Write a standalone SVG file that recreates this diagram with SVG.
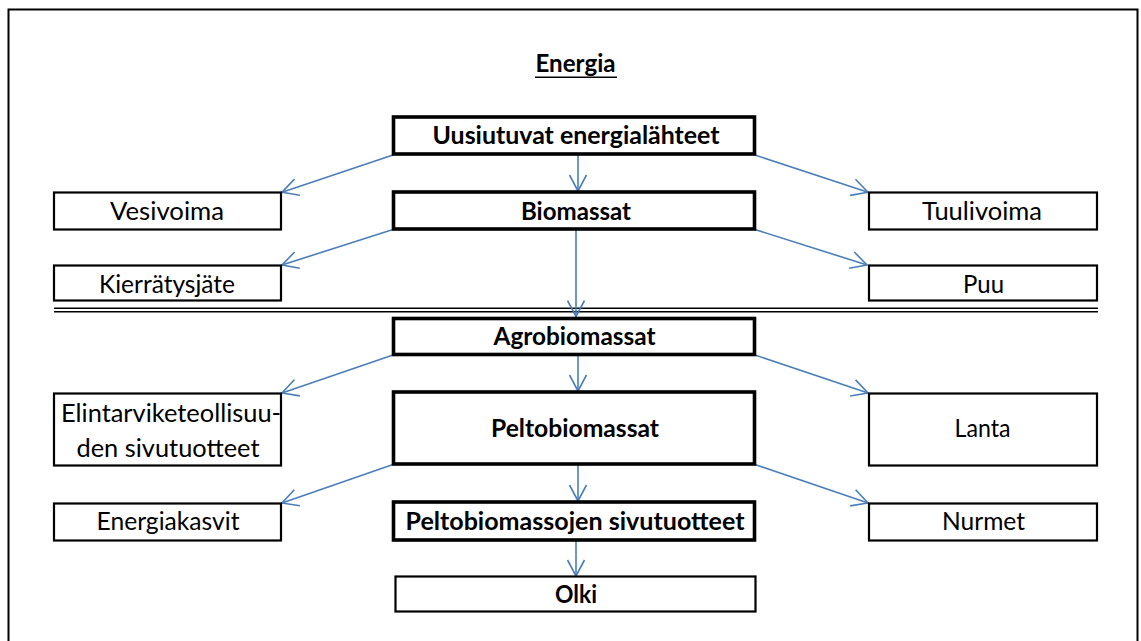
<svg xmlns="http://www.w3.org/2000/svg" width="1141" height="641" viewBox="0 0 1141 641">
<style>
text{font-family:Lato,"Open Sans","Liberation Sans",sans-serif;font-size:24.5px;fill:#000;text-anchor:middle}
.b{font-weight:bold}
.thin{fill:#fff;stroke:#000;stroke-width:2.2}
.thick{fill:#fff;stroke:#000;stroke-width:3.6}
.c{stroke:#4A7EBB;stroke-width:1.6;fill:none;marker-end:url(#ah)}
.sep{stroke:#000;stroke-width:1.6}
</style>
<defs>
<marker id="ah" markerUnits="userSpaceOnUse" viewBox="-17 -10 19 20" refX="0" refY="0" markerWidth="19" markerHeight="20" orient="auto">
<path d="M-16,-8.5 L0,0 L-16,8.5" fill="none" stroke="#4A7EBB" stroke-width="1.6"/>
</marker>
</defs>
<rect x="0" y="0" width="1141" height="641" fill="#fff"/>
<rect id="frame" x="8.5" y="9.5" width="1129" height="660" fill="none" stroke="#000" stroke-width="2"/>
<g id="title">
<text class="b" x="575.5" y="71.5" textLength="80" lengthAdjust="spacingAndGlyphs">Energia</text>
<line x1="535" y1="77.3" x2="617" y2="77.3" stroke="#000" stroke-width="1.5"/>
</g>
<g id="separator">
<line class="sep" x1="54" y1="308.3" x2="1098" y2="308.3"/>
<line class="sep" x1="54" y1="311.8" x2="1098" y2="311.8"/>
</g>
<g id="connectors">
<line class="c" x1="393" y1="155" x2="282" y2="192.3"/>
<line class="c" x1="578" y1="155" x2="578" y2="191"/>
<line class="c" x1="755" y1="155" x2="868" y2="192.3"/>
<line class="c" x1="393" y1="229.5" x2="282" y2="265"/>
<line class="c" x1="755" y1="229.5" x2="867" y2="265"/>
<line class="c" x1="576" y1="229.5" x2="576" y2="316.5"/>
<line class="c" x1="393" y1="355" x2="282" y2="393"/>
<line class="c" x1="578" y1="355" x2="578" y2="391"/>
<line class="c" x1="755" y1="355" x2="868" y2="393"/>
<line class="c" x1="393" y1="464.5" x2="282" y2="503"/>
<line class="c" x1="578" y1="464.5" x2="578" y2="501"/>
<line class="c" x1="755" y1="464.5" x2="868" y2="503"/>
<line class="c" x1="576" y1="540" x2="576" y2="576"/>
</g>
<g id="uusiutuvat">
<rect class="thick" x="393.5" y="117" width="361" height="37"/>
<text class="b" x="576" y="144" textLength="287" lengthAdjust="spacingAndGlyphs">Uusiutuvat energialähteet</text>
</g>
<g id="vesivoima">
<rect class="thin" x="54" y="192.5" width="227" height="37"/>
<text x="167" y="220" textLength="114" lengthAdjust="spacingAndGlyphs">Vesivoima</text>
</g>
<g id="biomassat">
<rect class="thick" x="393.5" y="192" width="361" height="37"/>
<text class="b" x="576" y="220" textLength="110" lengthAdjust="spacingAndGlyphs">Biomassat</text>
</g>
<g id="tuulivoima">
<rect class="thin" x="869" y="192.5" width="228" height="37"/>
<text x="982" y="220" textLength="120" lengthAdjust="spacingAndGlyphs">Tuulivoima</text>
</g>
<g id="kierratysjate">
<rect class="thin" x="54" y="265.5" width="227" height="35"/>
<text x="167" y="292.5" textLength="136" lengthAdjust="spacingAndGlyphs">Kierrätysjäte</text>
</g>
<g id="puu">
<rect class="thin" x="869" y="265.5" width="228" height="35"/>
<text x="983.5" y="292.5" textLength="41" lengthAdjust="spacingAndGlyphs">Puu</text>
</g>
<g id="agrobiomassat">
<rect class="thick" x="393.5" y="318.5" width="361" height="36"/>
<text class="b" x="574.5" y="345" textLength="162" lengthAdjust="spacingAndGlyphs">Agrobiomassat</text>
</g>
<g id="elintarvike">
<rect class="thin" x="54" y="393.5" width="227" height="72"/>
<text x="171" y="421.5" textLength="220" lengthAdjust="spacingAndGlyphs">Elintarviketeollisuu-</text>
<text x="168" y="456.5" textLength="183" lengthAdjust="spacingAndGlyphs">den sivutuotteet</text>
</g>
<g id="peltobiomassat">
<rect class="thick" x="393.5" y="392" width="361" height="72"/>
<text class="b" x="575" y="437" textLength="168" lengthAdjust="spacingAndGlyphs">Peltobiomassat</text>
</g>
<g id="lanta">
<rect class="thin" x="869" y="393.5" width="228" height="72"/>
<text x="982.5" y="437" textLength="56" lengthAdjust="spacingAndGlyphs">Lanta</text>
</g>
<g id="energiakasvit">
<rect class="thin" x="54" y="503.5" width="227" height="37"/>
<text x="168" y="530" textLength="143" lengthAdjust="spacingAndGlyphs">Energiakasvit</text>
</g>
<g id="sivutuotteet">
<rect class="thick" x="393.5" y="502" width="361" height="38"/>
<text class="b" x="575" y="530" textLength="339" lengthAdjust="spacingAndGlyphs">Peltobiomassojen sivutuotteet</text>
</g>
<g id="nurmet">
<rect class="thin" x="869" y="503.5" width="228" height="37"/>
<text x="983.5" y="530" textLength="83" lengthAdjust="spacingAndGlyphs">Nurmet</text>
</g>
<g id="olki">
<rect class="thin" x="395.5" y="576.5" width="360" height="35"/>
<text class="b" x="576" y="603" textLength="42" lengthAdjust="spacingAndGlyphs">Olki</text>
</g>
</svg>
